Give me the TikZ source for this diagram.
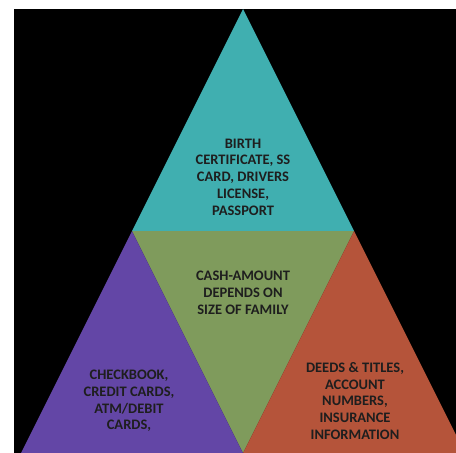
\documentclass[tikz,border=0pt]{standalone}
\usepackage{fontspec}
\setmainfont{Carlito}
\definecolor{tealtop}{RGB}{64,175,176}
\definecolor{greenmid}{RGB}{127,155,92}
\definecolor{purpleleft}{RGB}{99,70,166}
\definecolor{orangeright}{RGB}{181,84,58}
\definecolor{inktext}{RGB}{30,30,30}
\tikzset{
	lbl/.style={align=center, text=inktext, font=\bfseries\fontsize{14.5}{16.8}\selectfont, inner sep=0pt}
}

\begin{document}
\begin{tikzpicture}[x=1pt, y=-1pt]
	\useasboundingbox (0,0) rectangle (456,453);
	\fill[black] (14,9) rectangle (456,453);
	\fill[tealtop] (243,9) -- (132,231) -- (354,231) --cycle;
	\fill[greenmid] (132,231) -- (354,231) -- (243,453) --cycle;
	\fill[purpleleft] (132,231) -- (243,453) -- (21,453) --cycle;
	\fill[orangeright] (354,231) -- (465,453) -- (243,453) --cycle;
	\node[lbl] (docs) at (243,177) {BIRTH\\CERTIFICATE, SS\\CARD, DRIVERS\\LICENSE,\\PASSPORT};
	\node[lbl] (cash) at (243,293) {CASH-AMOUNT\\DEPENDS ON\\SIZE OF FAMILY};
	\node[lbl] (cards) at (129,401) {CHECKBOOK,\\CREDIT CARDS,\\ATM/DEBIT\\CARDS,};
	\node[lbl] (deeds) at (355,401) {DEEDS \& TITLES,\\ACCOUNT\\NUMBERS,\\INSURANCE\\INFORMATION};
\end{tikzpicture}
\end{document}
